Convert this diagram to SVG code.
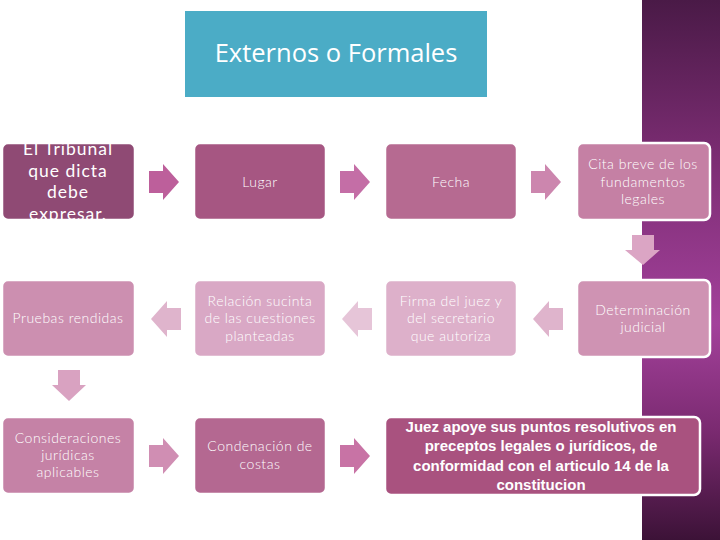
<svg xmlns="http://www.w3.org/2000/svg" width="720" height="540" viewBox="0 0 720 540">
<defs>
<linearGradient id="band" x1="0" y1="0" x2="0" y2="1">
<stop offset="0" stop-color="#4a1a47"/>
<stop offset="0.3" stop-color="#7d2d74"/>
<stop offset="0.6" stop-color="#a3419b"/>
<stop offset="0.8" stop-color="#7a2a70"/>
<stop offset="1" stop-color="#3c1237"/>
</linearGradient>
<clipPath id="c1"><rect x="2" y="143" width="133" height="77" rx="6"/></clipPath>
<style>
.n{stroke:#fff;stroke-width:2.5}
.t{font-family:Lato,"Liberation Sans",Arial,sans-serif;font-weight:300;font-size:14px;fill:#fff;text-anchor:middle;letter-spacing:0.5px}
.b{font-family:"Liberation Sans",Arial,sans-serif;font-size:15px;font-weight:bold;fill:#fff;text-anchor:middle}
</style>
</defs>
<rect width="720" height="540" fill="#fff"/>
<rect x="642" y="0" width="78" height="540" fill="url(#band)"/>

<g id="title">
<rect x="185" y="11" width="302" height="86" fill="#4bacc6"/>
<text x="336" y="62" font-family="'Open Sans','Liberation Sans',sans-serif" font-size="25.5" fill="#fff" text-anchor="middle">Externos o Formales</text>
</g>

<g id="connectors">
<path d="M149 171H163V164L179 182L163 200V193H149Z" fill="#bd5f9b"/>
<path d="M340 171H354V164L370 182L354 200V193H340Z" fill="#c46ea6"/>
<path d="M531 171H545V164L561 182L545 200V193H531Z" fill="#cc86ae"/>
<path d="M632 235H654V250H660L643 265L625 250H632Z" fill="#dba5c4"/>
<path d="M563 308H549V301L533 319L549 337V330H563Z" fill="#dfb4cc"/>
<path d="M372 308H358V301L342 319L358 337V330H372Z" fill="#e6c5d8"/>
<path d="M181 308H167V301L151 319L167 337V330H181Z" fill="#dfb4cc"/>
<path d="M58 370H80V385H86L69 401L52 385H58Z" fill="#d9a2c1"/>
<path d="M149 445H163V438L179 456L163 474V467H149Z" fill="#d08eb3"/>
<path d="M340 445H354V438L370 456L354 474V467H340Z" fill="#c873a5"/>
</g>

<g id="n1">
<rect class="n" x="2" y="143" width="133" height="77" rx="6" fill="#8f4a74"/>
<g clip-path="url(#c1)" font-family="Lato,'Liberation Sans',Arial,sans-serif" font-size="17.5" fill="#fff" text-anchor="middle" letter-spacing="1">
<text x="68" y="155">El Tribunal</text>
<text x="68" y="177">que dicta</text>
<text x="68" y="198">debe</text>
<text x="68" y="220">expresar.</text>
</g>
</g>
<g id="n2">
<rect class="n" x="194" y="143" width="132" height="77" rx="6" fill="#a65682"/>
<text class="t" x="260" y="187">Lugar</text>
</g>
<g id="n3">
<rect class="n" x="385" y="143" width="132" height="77" rx="6" fill="#b66a91"/>
<text class="t" x="451" y="187">Fecha</text>
</g>
<g id="n4">
<rect class="n" x="577" y="143" width="133" height="77" rx="6" fill="#c580a4"/>
<text class="t" x="643" y="169">Cita breve de los</text>
<text class="t" x="643" y="187">fundamentos</text>
<text class="t" x="643" y="204">legales</text>
</g>

<g id="n5">
<rect class="n" x="2" y="280" width="133" height="77" rx="6" fill="#cc8fb0"/>
<text class="t" x="68" y="323">Pruebas rendidas</text>
</g>
<g id="n6">
<rect class="n" x="194" y="280" width="132" height="77" rx="6" fill="#d9a8c5"/>
<text class="t" x="260" y="306">Relación sucinta</text>
<text class="t" x="260" y="323">de las cuestiones</text>
<text class="t" x="260" y="341">planteadas</text>
</g>
<g id="n7">
<rect class="n" x="385" y="280" width="132" height="77" rx="6" fill="#ddb0ca"/>
<text class="t" x="451" y="306">Firma del juez y</text>
<text class="t" x="451" y="323">del secretario</text>
<text class="t" x="451" y="341">que autoriza</text>
</g>
<g id="n8">
<rect class="n" x="577" y="280" width="133" height="77" rx="6" fill="#cf93b3"/>
<text class="t" x="643" y="315">Determinación</text>
<text class="t" x="643" y="332">judicial</text>
</g>

<g id="n9">
<rect class="n" x="2" y="417" width="133" height="77" rx="6" fill="#c582a6"/>
<text class="t" x="68" y="443">Consideraciones</text>
<text class="t" x="68" y="460">jurídicas</text>
<text class="t" x="68" y="477">aplicables</text>
</g>
<g id="n10">
<rect class="n" x="194" y="417" width="132" height="77" rx="6" fill="#b46891"/>
<text class="t" x="260" y="451">Condenación de</text>
<text class="t" x="260" y="469">costas</text>
</g>
<g id="n11">
<rect class="n" x="385" y="417" width="315" height="78" rx="6" fill="#a9527f"/>
<text class="b" x="541" y="432">Juez apoye sus puntos resolutivos en</text>
<text class="b" x="541" y="451">preceptos legales o jurídicos, de</text>
<text class="b" x="541" y="471">conformidad con el articulo 14 de la</text>
<text class="b" x="541" y="490">constitucion</text>
</g>
</svg>
